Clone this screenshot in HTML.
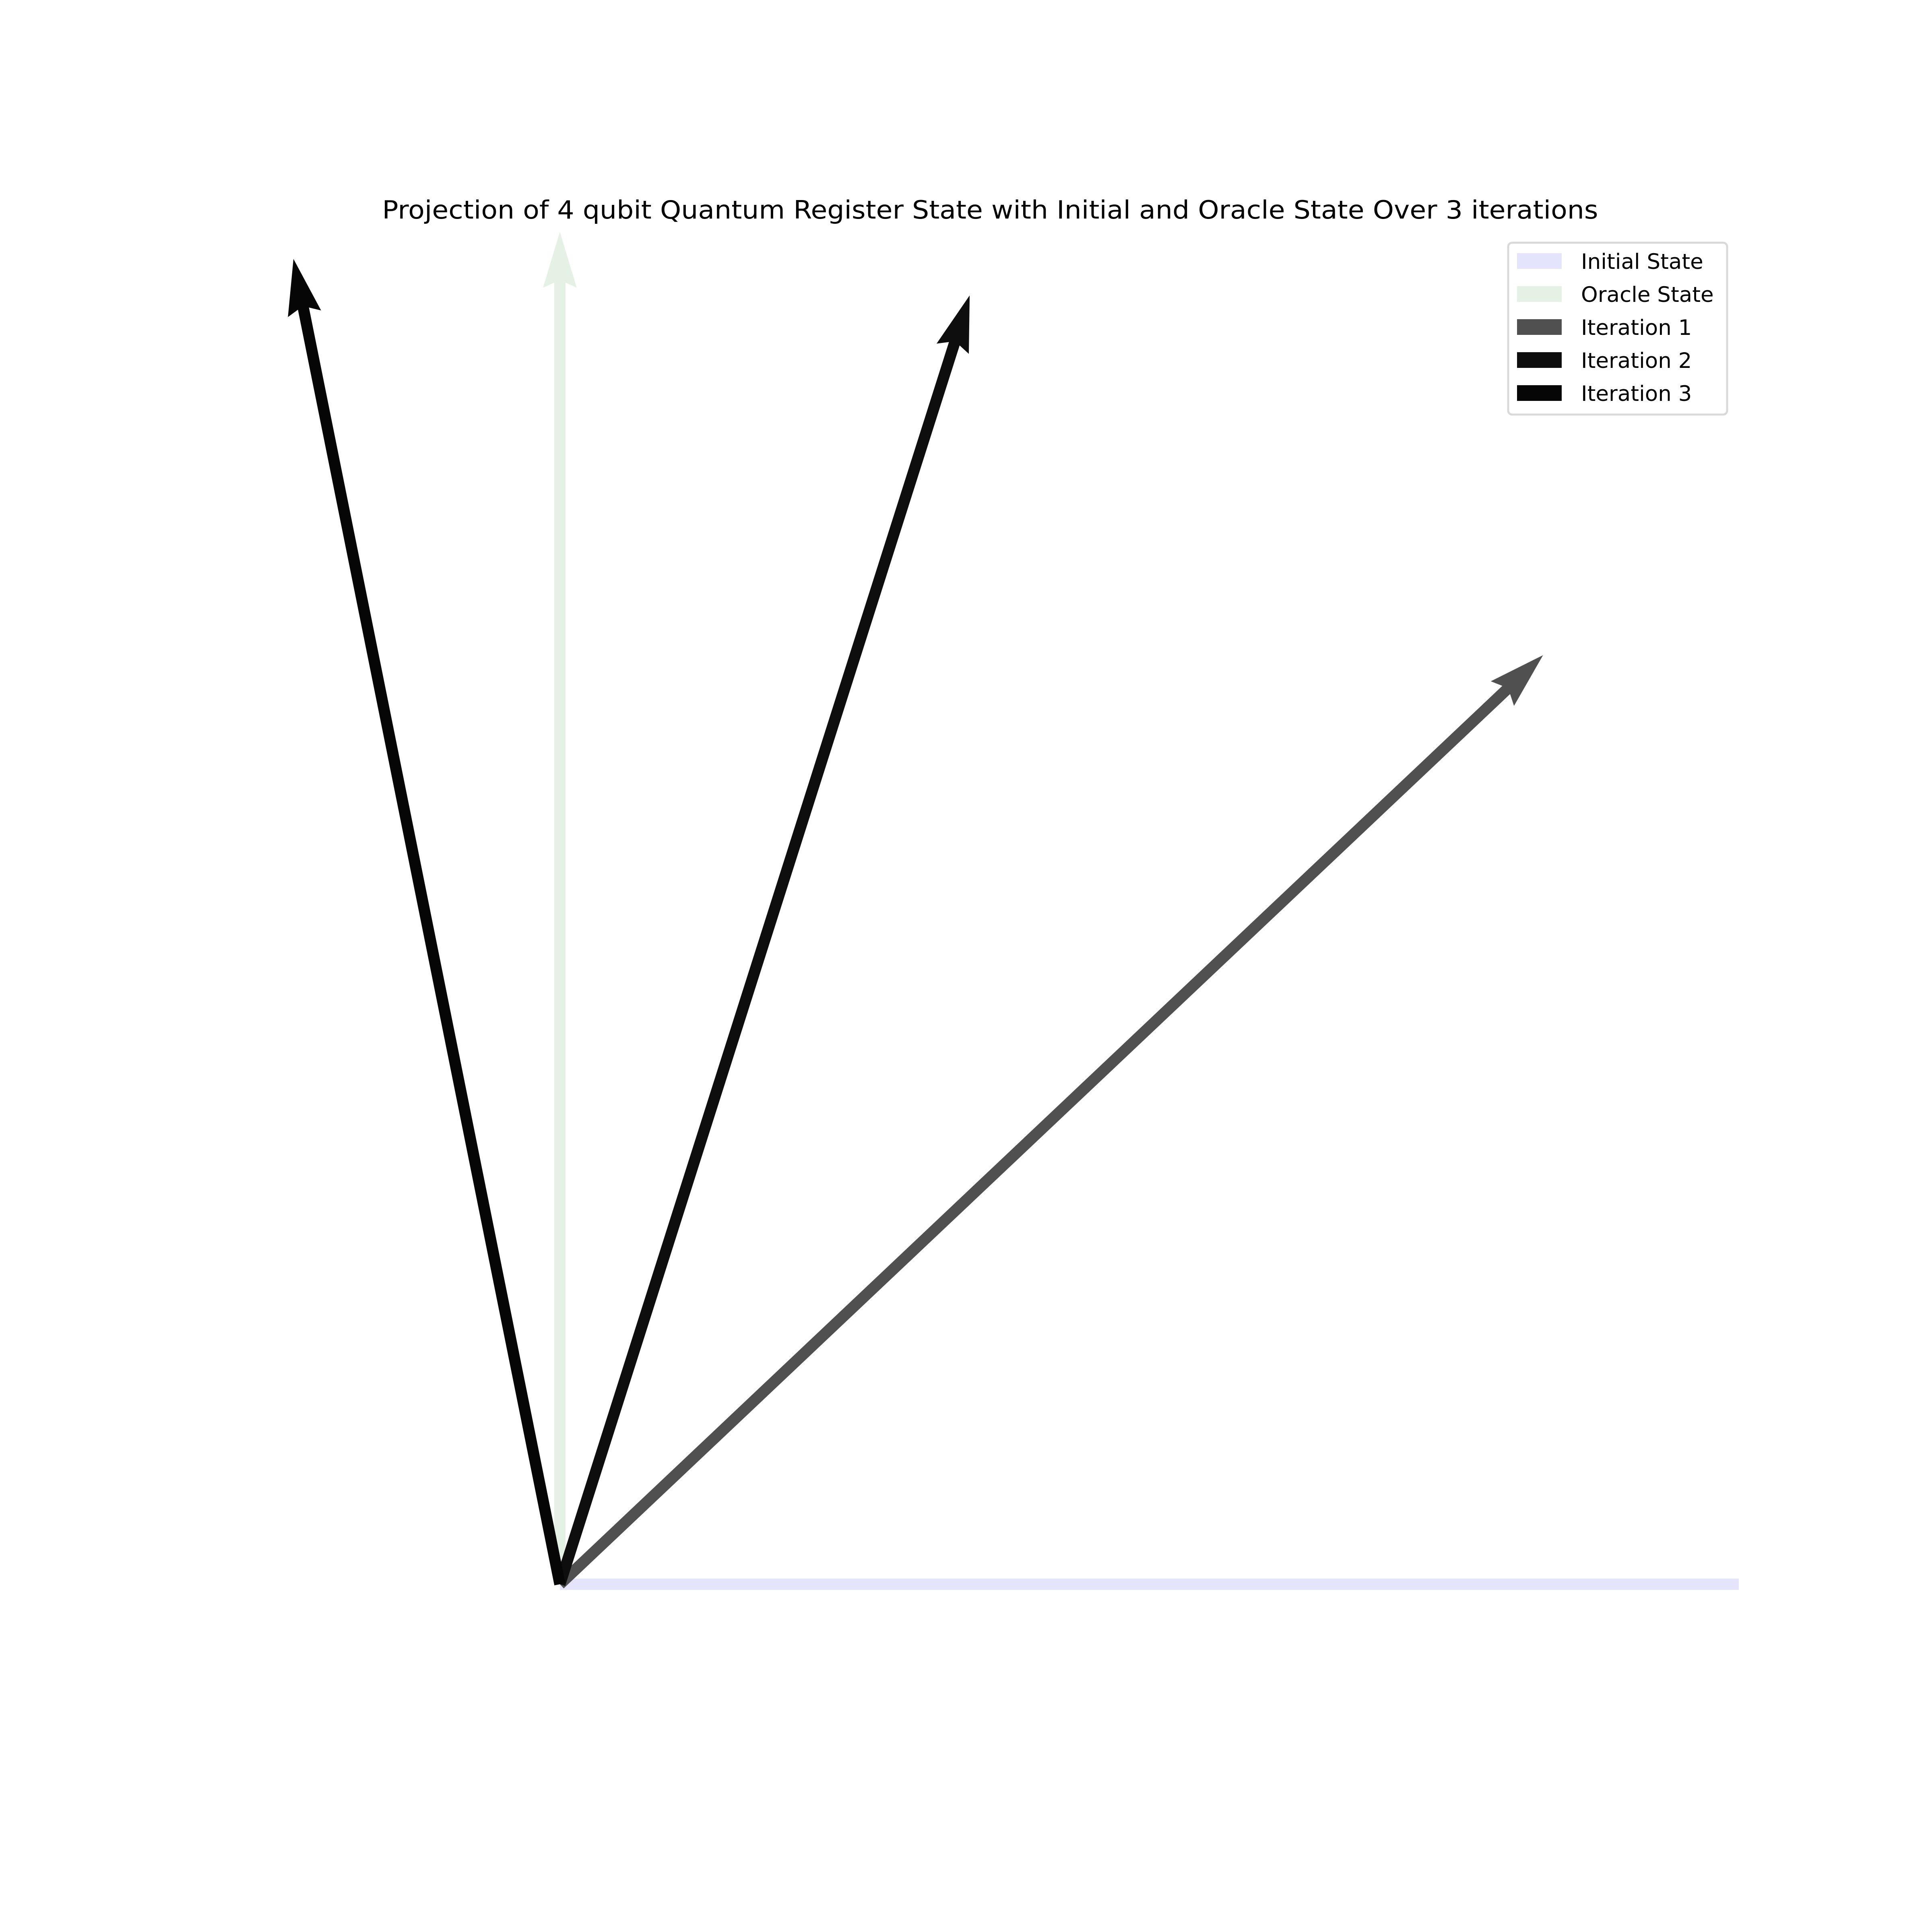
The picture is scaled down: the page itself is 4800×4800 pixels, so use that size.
<!DOCTYPE html>
<html><head><meta charset="utf-8"><style>
html,body{margin:0;padding:0;background:#fff;}
svg{display:block;}
text{font-family:"DejaVu Sans","Liberation Sans",sans-serif;fill:#000;}
</style></head>
<body>
<svg id="chart" xmlns="http://www.w3.org/2000/svg" width="4800" height="4800" viewBox="0 0 4800 4800">
<rect x="0" y="0" width="4800" height="4800" fill="#ffffff"/>
<defs><clipPath id="axclip"><rect x="0" y="0" width="4320" height="4800"/></clipPath></defs>
<text x="2460" y="543" text-anchor="middle" font-size="62" textLength="3021" lengthAdjust="spacingAndGlyphs">Projection of 4 qubit Quantum Register State with Initial and Oracle State Over 3 iterations</text>
<g id="vectors" clip-path="url(#axclip)"></g>
<g id="legend">
<rect x="3747" y="603" width="544" height="427" rx="10" ry="10" fill="#ffffff" stroke="#d9d9d9" stroke-width="5"/>
</g>
</svg>
<script>
const seriesNames = ["Initial State", "Oracle State", "Iteration 1", "Iteration 2", "Iteration 3"];
const vecX = [1.0, 0.0, 0.727, 0.303, -0.197];
const vecY = [0.0, 1.0, 0.687, 0.953, 0.980];
const seriesColors = ["#e4e4fd", "#e5f1e5", "#505050", "#0e0e0e", "#060606"];
const hasHead = [false, true, true, true, true];

const NS = "http://www.w3.org/2000/svg";
const ox = 1391, oy = 3936, unit = 3360;
function sx(v){ return ox + v*unit; }
function sy(v){ return oy - v*unit; }

const vg = document.getElementById("vectors");
const halfShaft = 14, headLen = 139, notch = 126, headHalf = 42;
for (let i = 0; i < seriesNames.length; i++) {
  const x1 = sx(vecX[i]), y1 = sy(vecY[i]);
  const dx = x1 - ox, dy = y1 - oy;
  const L = Math.hypot(dx, dy);
  const ux = dx / L, uy = dy / L, px = -uy, py = ux;
  const P = (t, w) => [ox + ux*t + px*w, oy + uy*t + py*w];
  let pts;
  if (hasHead[i]) {
    const nb = L - notch, hb = L - headLen;
    pts = [P(0,-halfShaft), P(nb,-halfShaft), P(hb,-headHalf), P(L,0), P(hb,headHalf), P(nb,halfShaft), P(0,halfShaft)];
  } else {
    pts = [P(0,-halfShaft), P(L,-halfShaft), P(L,halfShaft), P(0,halfShaft)];
  }
  const poly = document.createElementNS(NS, "polygon");
  poly.setAttribute("points", pts.map(p => p[0].toFixed(1)+","+p[1].toFixed(1)).join(" "));
  poly.setAttribute("fill", seriesColors[i]);
  
  
  vg.appendChild(poly);
}

const lg = document.getElementById("legend");
for (let i = 0; i < seriesNames.length; i++) {
  const y = 629 + i*82;
  const r = document.createElementNS(NS, "rect");
  r.setAttribute("x", 3769); r.setAttribute("y", y);
  r.setAttribute("width", 111); r.setAttribute("height", 39);
  r.setAttribute("fill", seriesColors[i]);
  
  
  lg.appendChild(r);
  const t = document.createElementNS(NS, "text");
  t.setAttribute("x", 3928); t.setAttribute("y", y + 39);
  t.setAttribute("font-size", "53");
  t.textContent = seriesNames[i];
  
  
  lg.appendChild(t);
}
</script>
</body></html>
